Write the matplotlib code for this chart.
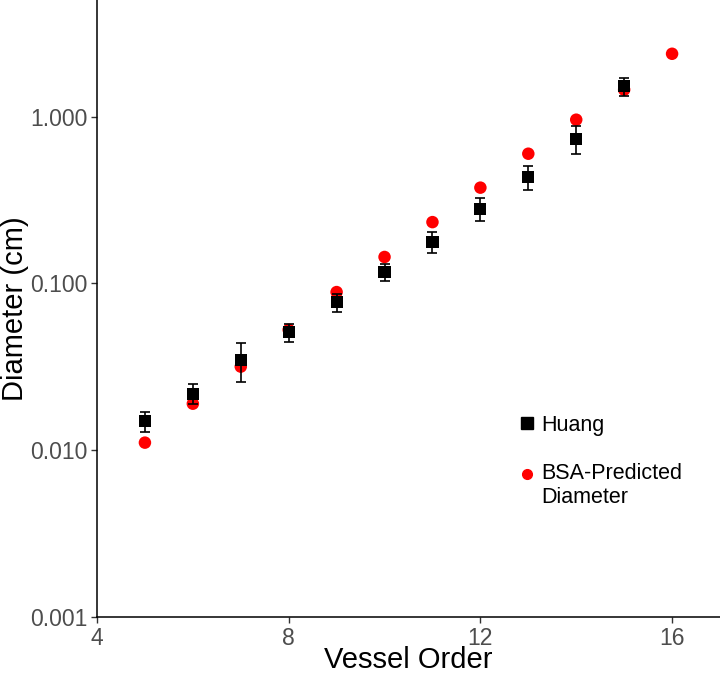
import matplotlib
matplotlib.use("Agg")
import matplotlib.pyplot as plt
from matplotlib.lines import Line2D
from matplotlib.legend_handler import HandlerLine2D

plt.rcParams['font.family'] = ['Liberation Sans', 'DejaVu Sans']

# Data
vessel_order_huang = [5, 6, 7, 8, 9, 10, 11, 12, 13, 14, 15]
huang_mean = [0.0149, 0.0218, 0.0348, 0.0510, 0.0772, 0.117, 0.178, 0.281, 0.434, 0.734, 1.518]
huang_upper = [0.0169, 0.0248, 0.0438, 0.0570, 0.0862, 0.131, 0.203, 0.326, 0.503, 0.873, 1.695]
huang_lower = [0.0129, 0.0190, 0.0258, 0.0448, 0.0673, 0.103, 0.153, 0.235, 0.364, 0.593, 1.335]

vessel_order_bsa = [5, 6, 7, 8, 9, 10, 11, 12, 13, 14, 15, 16]
bsa_pred = [0.0111, 0.0190, 0.0317, 0.0527, 0.0887, 0.144, 0.233, 0.375, 0.599, 0.958, 1.45, 2.38]

x_ticks = [4, 8, 12, 16]
y_ticks = [0.001, 0.01, 0.1, 1.0]
y_tick_labels = ["0.001", "0.010", "0.100", "1.000"]
legend_labels = ['Huang', 'BSA-Predicted\nDiameter']


class ShiftedHandler(HandlerLine2D):
    def __init__(self, shift=0.0, **kw):
        super().__init__(**kw)
        self.shift = shift

    def create_artists(self, legend, orig_handle, xdescent, ydescent,
                       width, height, fontsize, trans):
        arts = super().create_artists(legend, orig_handle, xdescent, ydescent,
                                      width, height, fontsize, trans)
        for a in arts:
            y = a.get_ydata()
            a.set_ydata([v + self.shift * fontsize for v in y])
        return arts


fig = plt.figure(figsize=(7.2, 6.74), dpi=100)
ax = fig.add_axes([97/720, 57/674, 1 - 97/720, 1 - 57/674])

ax.scatter(vessel_order_bsa, bsa_pred, s=9**2, marker='o', color='#FF0000',
           edgecolors='none', zorder=2)
yerr = [[m - lo for m, lo in zip(huang_mean, huang_lower)],
        [up - m for m, up in zip(huang_mean, huang_upper)]]
ax.errorbar(vessel_order_huang, huang_mean, yerr=yerr, fmt='none', ecolor='black',
            elinewidth=1.2, capsize=3.6, capthick=1.2, zorder=3)
ax.scatter(vessel_order_huang, huang_mean, s=8.7**2, marker='s', color='black',
           edgecolors='none', zorder=4)

ax.set_yscale('log')
ax.set_xlim(4, 17)
ax.set_ylim(0.001, 5.0)
ax.set_xticks(x_ticks)
ax.set_xticklabels([str(t) for t in x_ticks])
ax.set_yticks(y_ticks)
ax.set_yticklabels(y_tick_labels)
ax.yaxis.set_minor_locator(matplotlib.ticker.NullLocator())

for s in ['top', 'right']:
    ax.spines[s].set_visible(False)
for s in ['left', 'bottom']:
    ax.spines[s].set_linewidth(1.1)
    ax.spines[s].set_color('black')

ax.tick_params(axis='both', which='major', length=4, width=1.0, color='#333333',
               labelsize=16.5, labelcolor='#4D4D4D', pad=3)

ax.set_xlabel('Vessel Order', fontsize=21, color='black')
ax.xaxis.set_label_coords(0.5, -0.047)
ax.xaxis.label.set_va('top')
ax.set_ylabel('Diameter (cm)', fontsize=21, color='black')
ax.yaxis.set_label_coords(-0.131, 0.5)
ax.yaxis.label.set_va('center')

handles = [
    Line2D([], [], linestyle='none', marker='s', markersize=8.5, color='black'),
    Line2D([], [], linestyle='none', marker='o', markersize=7, color='#FF0000'),
]
leg = ax.legend(handles, legend_labels, frameon=False,
                loc='upper left', bbox_to_anchor=(0.663, 0.342),
                fontsize=15.5, handlelength=0.75, handletextpad=0.3,
                labelspacing=1.25, borderaxespad=0,
                handler_map={handles[1]: ShiftedHandler(shift=0.55)})

fig.savefig('out.png', dpi=100)
